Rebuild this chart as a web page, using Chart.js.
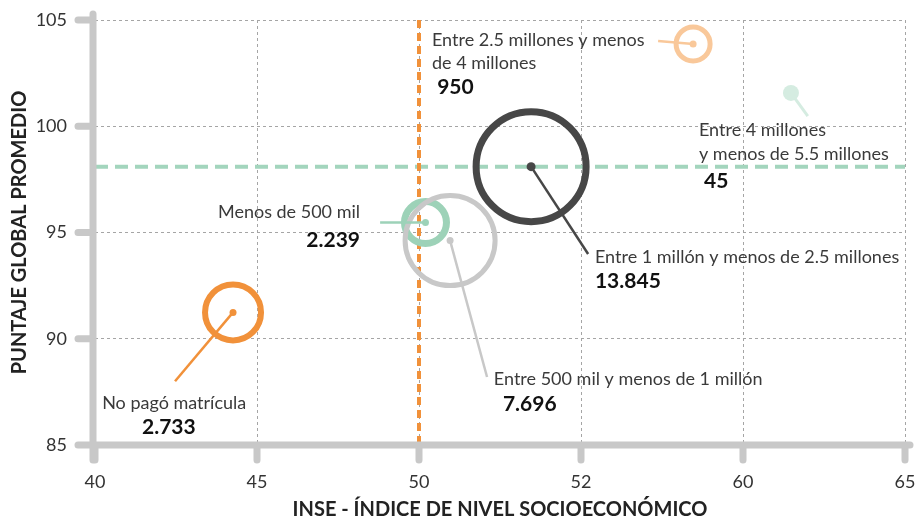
<!DOCTYPE html>
<html>
<head>
<meta charset="utf-8">
<script src="https://cdn.jsdelivr.net/npm/chart.js@4.4.1/dist/chart.umd.min.js"></script>
<style>
  html, body { margin: 0; padding: 0; background: #fff; }
</style>
</head>
<body>
<canvas id="chart" width="919" height="523"></canvas>
<script>
// data
const groups = [
  'No pagó matrícula',
  'Menos de 500 mil',
  'Entre 500 mil y menos de 1 millón',
  'Entre 1 millón y menos de 2.5 millones',
  'Entre 2.5 millones y menos de 4 millones',
  'Entre 4 millones y menos de 5.5 millones',
]
const inse = [44.26, 50.2, 50.96, 53.46, 58.46, 61.48]
const puntaje = [91.24, 95.47, 94.62, 98.1, 103.87, 101.57]
const students = ['2.733', '2.239', '7.696', '13.845', '950', '45']
const xTickLabels = ['40', '45', '50', '52', '60', '65']
const inseReference = 50
const puntajeReference = 98.1

// styling
const ringColors = ['#f1913a', '#9dd2b8', '#c8c8c8', '#474747', '#f9c89a', '#d5ece1']
const ringRadius = [28, 21, 45, 55, 17, 8]
const ringWidth = [6, 7, 5, 7, 5, 0]
const dotRadius = [3.5, 3.5, 3.5, 4.5, 3.5, 0]
const AXIS_GRAY = '#c8c8c8'
const FONT = 'Lato, "Open Sans", sans-serif'

// callouts: leader end and text lines, in data units
const callouts = [
  { lead: [42.47, 88.0], lines: [['No pagó matrícula', 40.22, 86.98], ['2.733', 41.45, 85.85, true]] },
  { lead: [48.8, 95.47], lines: [['Menos de 500 mil', 48.18, 95.96, false, 'right'], ['2.239', 48.18, 94.65, true, 'right']] },
  { lead: [52.1, 88.2], lines: [['Entre 500 mil y menos de 1 millón', 52.31, 88.11], ['7.696', 52.59, 86.93, true]] },
  { lead: [55.22, 93.99], lines: [['Entre 1 millón y menos de 2.5 millones', 55.43, 93.85], ['13.845', 55.43, 92.72, true]] },
  { lead: [57.38, 104.01], lines: [['Entre 2.5 millones y menos', 50.4, 104.06], ['de 4 millones', 50.4, 102.98], ['950', 50.56, 101.85, true]] },
  { lead: [62.0, 100.48], lines: [['Entre 4 millones', 58.64, 99.82], ['y menos de 5.5 millones', 58.64, 98.69], ['45', 58.8, 97.42, true]] },
]

const decorations = {
  id: 'decorations',
  beforeDatasetsDraw(chart) {
    const { ctx, chartArea: area, scales: { x, y } } = chart
    ctx.save()
    // reference lines
    ctx.lineWidth = 4
    ctx.strokeStyle = '#a3d5bd'
    ctx.setLineDash([13, 7])
    ctx.beginPath()
    ctx.moveTo(area.left, y.getPixelForValue(puntajeReference))
    ctx.lineTo(area.right, y.getPixelForValue(puntajeReference))
    ctx.stroke()
    ctx.strokeStyle = '#f1913a'
    ctx.setLineDash([8, 5])
    ctx.beginPath()
    ctx.moveTo(x.getPixelForValue(inseReference), area.top)
    ctx.lineTo(x.getPixelForValue(inseReference), area.bottom)
    ctx.stroke()
    ctx.setLineDash([])

    // thick rounded axes with ticks
    const ax = area.left - 2
    const ay = area.bottom
    ctx.strokeStyle = AXIS_GRAY
    ctx.lineWidth = 7
    ctx.lineCap = 'round'
    ctx.beginPath()
    ctx.moveTo(ax, area.top - 6)
    ctx.lineTo(ax, ay + 15)
    ctx.moveTo(ax - 15, ay)
    ctx.lineTo(area.right + 5, ay)
    y.ticks.forEach(t => {
      const py = y.getPixelForValue(t.value)
      ctx.moveTo(ax - 15, py)
      ctx.lineTo(ax, py)
    })
    x.ticks.forEach(t => {
      const px = x.getPixelForValue(t.value)
      ctx.moveTo(px, ay)
      ctx.lineTo(px, ay + 15)
    })
    ctx.stroke()
    ctx.restore()
  },
  afterDatasetsDraw(chart) {
    const { ctx, scales: { x, y } } = chart
    ctx.save()
    ctx.lineCap = 'butt'
    callouts.forEach((c, i) => {
      ctx.strokeStyle = ringColors[i]
      ctx.lineWidth = i === 5 ? 3 : 2.5
      ctx.beginPath()
      ctx.moveTo(x.getPixelForValue(inse[i]), y.getPixelForValue(puntaje[i]))
      ctx.lineTo(x.getPixelForValue(c.lead[0]), y.getPixelForValue(c.lead[1]))
      ctx.stroke()
      c.lines.forEach(([text, lx, ly, bold, align]) => {
        ctx.font = bold ? `bold 21px ${FONT}` : `18px ${FONT}`
        ctx.fillStyle = bold ? '#111' : '#3a3a3a'
        ctx.textAlign = align || 'left'
        ctx.textBaseline = 'middle'
        ctx.fillText(text, x.getPixelForValue(lx), y.getPixelForValue(ly))
      })
    })
    ctx.restore()
  },
}

new Chart(document.getElementById('chart'), {
  type: 'bubble',
  data: {
    datasets: [
      {
        label: 'Estudiantes',
        data: inse.map((v, i) => ({ x: v, y: puntaje[i], r: ringRadius[i] })),
        backgroundColor: ringColors.map((c, i) => (i === 5 ? c : 'rgba(0,0,0,0)')),
        borderColor: ringColors,
        borderWidth: ringWidth,
        clip: false,
      },
      {
        label: 'Centro',
        data: inse.map((v, i) => ({ x: v, y: puntaje[i], r: dotRadius[i] })),
        backgroundColor: ringColors,
        borderWidth: 0,
        clip: false,
      },
    ],
  },
  options: {
    responsive: false,
    animation: false,
    events: [],
    layout: { autoPadding: false, padding: { top: 20, right: 14, left: 0, bottom: 0 } },
    plugins: { legend: { display: false }, tooltip: { enabled: false } },
    scales: {
      x: {
        type: 'linear',
        min: 40,
        max: 65,
        afterFit: scale => {
          scale.height = 78
          scale.paddingLeft = 0
          scale.paddingRight = 0
        },
        afterBuildTicks: scale => {
          scale.ticks = xTickLabels.map((_, i) => ({ value: 40 + i * 5 }))
        },
        ticks: {
          callback: (v, i) => xTickLabels[i],
          padding: 26,
          color: '#333',
          font: { family: FONT, size: 18 },
          maxRotation: 0,
        },
        grid: { color: '#a5a5a5', lineWidth: 1, drawTicks: false },
        border: { display: false, dash: [3, 3] },
        title: {
          display: true,
          text: 'INSE - ÍNDICE DE NIVEL SOCIOECONÓMICO',
          color: '#222',
          font: { family: FONT, size: 20, weight: 'bold' },
          padding: { top: 0, bottom: 1 },
        },
      },
      y: {
        type: 'linear',
        min: 85,
        max: 105,
        afterFit: scale => {
          scale.width = 95
          scale.paddingTop = 0
          scale.paddingBottom = 0
        },
        ticks: {
          stepSize: 5,
          padding: 28,
          color: '#333',
          font: { family: FONT, size: 18 },
        },
        grid: { color: '#a5a5a5', lineWidth: 1, drawTicks: false },
        border: { display: false, dash: [3, 3] },
        title: {
          display: true,
          text: 'PUNTAJE GLOBAL PROMEDIO',
          color: '#222',
          font: { family: FONT, size: 20, weight: 'bold' },
          padding: { top: 8, bottom: 0 },
        },
      },
    },
  },
  plugins: [decorations],
})
</script>
</body>
</html>
